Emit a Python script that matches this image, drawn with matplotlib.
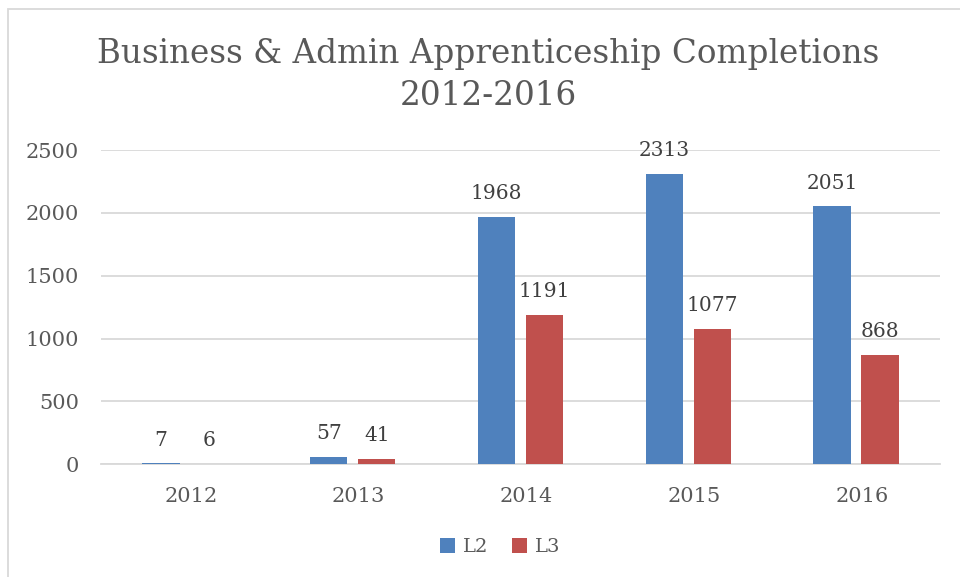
import numpy as np
import matplotlib.pyplot as plt
import matplotlib.transforms as mtransforms
from matplotlib.patches import Rectangle

years = ["2012", "2013", "2014", "2015", "2016"]
l2_values = [7, 57, 1968, 2313, 2051]
l3_values = [6, 41, 1191, 1077, 868]
y_ticks = [0, 500, 1000, 1500, 2000, 2500]

text_grey = "#595959"
grid_grey = "#d9d9d9"
blue = "#4F81BD"
red = "#C0504D"

plt.rcParams["font.family"] = ["DejaVu Serif"]

fig = plt.figure(figsize=(9.6, 5.77), dpi=100)
ax = fig.add_axes([101 / 960, 1 - 464.3 / 577, 839 / 960, 314.3 / 577])

x = np.arange(len(years))
width = 0.222
offset = 0.143

bars_l2 = ax.bar(x - offset, l2_values, width, color=blue, label="L2", zorder=3)
bars_l3 = ax.bar(x + offset, l3_values, width, color=red, label="L3", zorder=3)

for bars in (bars_l2, bars_l3):
    for bar in bars:
        h = bar.get_height()
        ax.annotate(f"{h:.0f}", (bar.get_x() + bar.get_width() / 2, h),
                    xytext=(0, 10), textcoords="offset points",
                    ha="center", va="bottom", fontsize=14.5,
                    color="#404040", annotation_clip=False)

ax.set_xlim(-0.5, len(years) - 0.5)
ax.set_ylim(0, 2500)
ax.set_yticks(y_ticks)
ax.set_xticks(x)
ax.set_xticklabels(years)
ax.tick_params(axis="both", length=0, labelsize=15, colors=text_grey)
ax.tick_params(axis="y", pad=16)
ax.tick_params(axis="x", pad=16)
# Excel puts the category labels a touch right of the group centre
shift = mtransforms.ScaledTranslation(6 / 100, 0, fig.dpi_scale_trans)
for lbl in ax.get_xticklabels():
    lbl.set_transform(lbl.get_transform() + shift)
ax.yaxis.grid(True, color=grid_grey, linewidth=1.3, zorder=0)
for side in ("top", "right", "left"):
    ax.spines[side].set_visible(False)
ax.spines["bottom"].set_color(grid_grey)
ax.spines["bottom"].set_linewidth(1.3)

fig.text(488 / 960, 1 - 75 / 577,
         "Business & Admin Apprenticeship Completions\n2012-2016",
         ha="center", va="center", fontsize=23.5, color=text_grey,
         linespacing=1.4)

fig.legend(handles=[bars_l2, bars_l3], labels=["L2", "L3"],
           loc="center", bbox_to_anchor=(500 / 960, 1 - 547 / 577),
           ncol=2, frameon=False, fontsize=14, handlelength=0.8,
           handleheight=0.8, handletextpad=0.4, columnspacing=1.2,
           labelcolor=text_grey)

fig.patches.append(Rectangle((7.5 / 960, -0.05), 1.2, 1.05 - 8.5 / 577,
                             transform=fig.transFigure, fill=False,
                             edgecolor=grid_grey, linewidth=1.3))

fig.savefig("out.png", dpi=100)
